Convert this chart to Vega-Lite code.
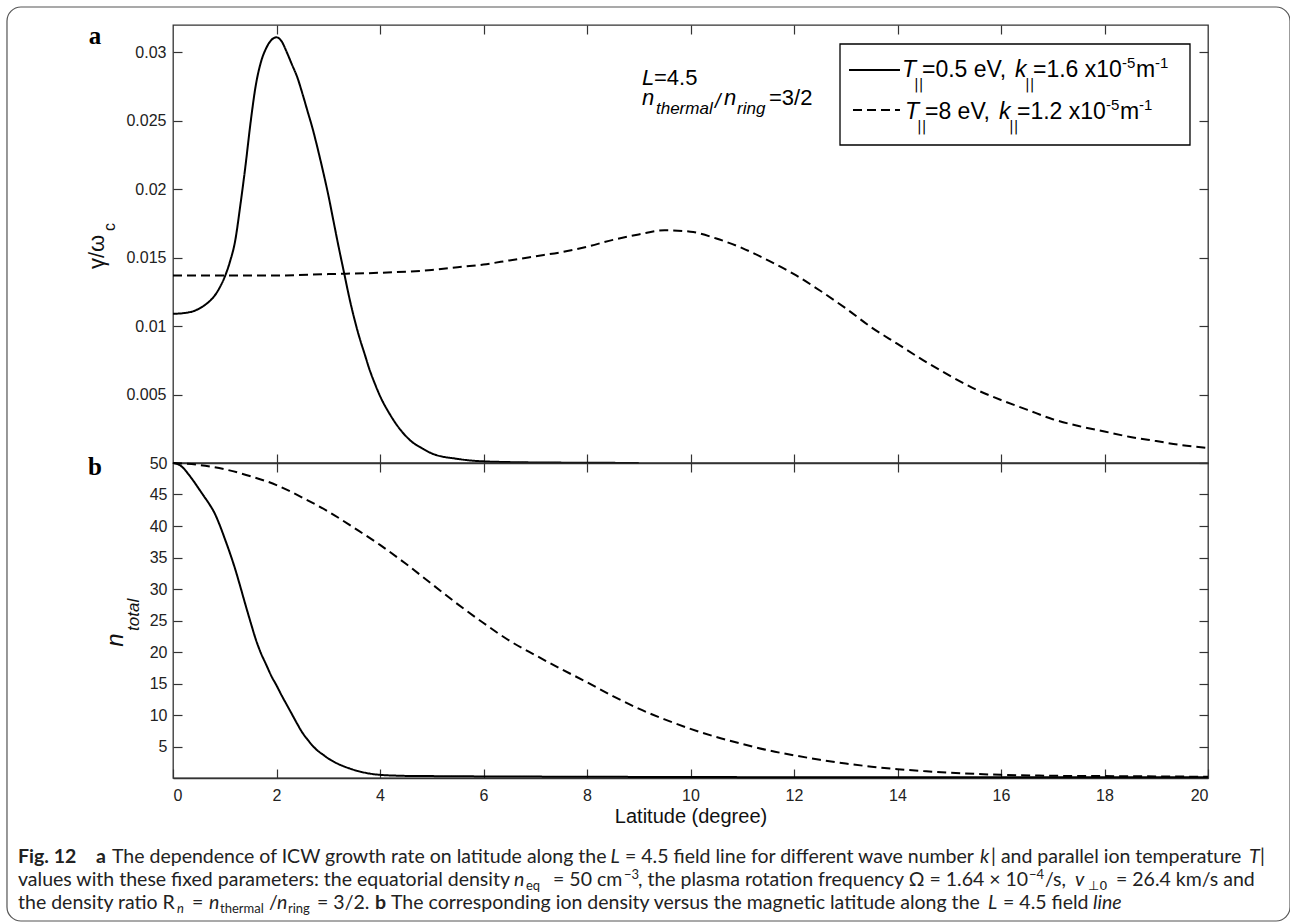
{
  "$schema": "https://vega.github.io/schema/vega-lite/v6.json",
  "background": "white",
  "padding": {"left": 5, "top": 5, "right": 1, "bottom": 2},
  "bounds": "flush",
  "spacing": 0,
  "datasets": {
    "gamma": [
      {"lat": 0, "val": 0.0109, "case": "T=0.5 eV"}, {"lat": 0.2, "val": 0.01095, "case": "T=0.5 eV"}, {"lat": 0.4, "val": 0.0111, "case": "T=0.5 eV"}, {"lat": 0.6, "val": 0.0115, "case": "T=0.5 eV"}, {"lat": 0.7, "val": 0.0118, "case": "T=0.5 eV"}, {"lat": 0.8, "val": 0.0122, "case": "T=0.5 eV"}, {"lat": 0.9, "val": 0.0128, "case": "T=0.5 eV"}, {"lat": 1.0, "val": 0.0136, "case": "T=0.5 eV"}, {"lat": 1.1, "val": 0.0147, "case": "T=0.5 eV"}, {"lat": 1.2, "val": 0.0162, "case": "T=0.5 eV"}, {"lat": 1.3, "val": 0.0188, "case": "T=0.5 eV"}, {"lat": 1.4, "val": 0.0217, "case": "T=0.5 eV"}, {"lat": 1.5, "val": 0.0249, "case": "T=0.5 eV"}, {"lat": 1.6, "val": 0.0276, "case": "T=0.5 eV"}, {"lat": 1.7, "val": 0.0293, "case": "T=0.5 eV"}, {"lat": 1.8, "val": 0.0303, "case": "T=0.5 eV"}, {"lat": 1.9, "val": 0.0309, "case": "T=0.5 eV"}, {"lat": 2.0, "val": 0.0311, "case": "T=0.5 eV"}, {"lat": 2.1, "val": 0.0308, "case": "T=0.5 eV"}, {"lat": 2.2, "val": 0.0300, "case": "T=0.5 eV"}, {"lat": 2.3, "val": 0.0291, "case": "T=0.5 eV"}, {"lat": 2.4, "val": 0.0282, "case": "T=0.5 eV"}, {"lat": 2.5, "val": 0.0270, "case": "T=0.5 eV"}, {"lat": 2.6, "val": 0.0257, "case": "T=0.5 eV"}, {"lat": 2.7, "val": 0.0244, "case": "T=0.5 eV"}, {"lat": 2.8, "val": 0.0229, "case": "T=0.5 eV"}, {"lat": 2.9, "val": 0.0213, "case": "T=0.5 eV"}, {"lat": 3.0, "val": 0.0196, "case": "T=0.5 eV"}, {"lat": 3.1, "val": 0.0177, "case": "T=0.5 eV"}, {"lat": 3.2, "val": 0.0158, "case": "T=0.5 eV"}, {"lat": 3.3, "val": 0.0140, "case": "T=0.5 eV"}, {"lat": 3.4, "val": 0.0122, "case": "T=0.5 eV"}, {"lat": 3.5, "val": 0.0106, "case": "T=0.5 eV"}, {"lat": 3.6, "val": 0.0092, "case": "T=0.5 eV"}, {"lat": 3.7, "val": 0.0080, "case": "T=0.5 eV"}, {"lat": 3.8, "val": 0.0068, "case": "T=0.5 eV"}, {"lat": 3.9, "val": 0.0058, "case": "T=0.5 eV"}, {"lat": 4.0, "val": 0.0049, "case": "T=0.5 eV"}, {"lat": 4.2, "val": 0.0035, "case": "T=0.5 eV"}, {"lat": 4.4, "val": 0.0024, "case": "T=0.5 eV"}, {"lat": 4.6, "val": 0.0016, "case": "T=0.5 eV"}, {"lat": 4.8, "val": 0.0011, "case": "T=0.5 eV"}, {"lat": 5.0, "val": 0.0007, "case": "T=0.5 eV"}, {"lat": 5.5, "val": 0.0003, "case": "T=0.5 eV"}, {"lat": 6.0, "val": 0.00012, "case": "T=0.5 eV"}, {"lat": 7.0, "val": 0.00004, "case": "T=0.5 eV"}, {"lat": 8.0, "val": 0.00002, "case": "T=0.5 eV"}, {"lat": 9.0, "val": 0.0, "case": "T=0.5 eV"},
      {"lat": 0, "val": 0.0137, "case": "T=8 eV"}, {"lat": 1, "val": 0.0137, "case": "T=8 eV"}, {"lat": 2, "val": 0.0137, "case": "T=8 eV"}, {"lat": 3, "val": 0.0138, "case": "T=8 eV"}, {"lat": 4, "val": 0.0139, "case": "T=8 eV"}, {"lat": 5, "val": 0.0141, "case": "T=8 eV"}, {"lat": 5.5, "val": 0.0143, "case": "T=8 eV"}, {"lat": 6, "val": 0.0145, "case": "T=8 eV"}, {"lat": 6.5, "val": 0.0148, "case": "T=8 eV"}, {"lat": 7, "val": 0.0151, "case": "T=8 eV"}, {"lat": 7.5, "val": 0.0154, "case": "T=8 eV"}, {"lat": 8, "val": 0.0158, "case": "T=8 eV"}, {"lat": 8.5, "val": 0.0163, "case": "T=8 eV"}, {"lat": 9, "val": 0.0167, "case": "T=8 eV"}, {"lat": 9.5, "val": 0.0170, "case": "T=8 eV"}, {"lat": 10, "val": 0.0169, "case": "T=8 eV"}, {"lat": 10.5, "val": 0.0164, "case": "T=8 eV"}, {"lat": 11, "val": 0.0157, "case": "T=8 eV"}, {"lat": 11.5, "val": 0.0148, "case": "T=8 eV"}, {"lat": 12, "val": 0.0138, "case": "T=8 eV"}, {"lat": 12.5, "val": 0.0126, "case": "T=8 eV"}, {"lat": 13, "val": 0.0113, "case": "T=8 eV"}, {"lat": 13.5, "val": 0.0099, "case": "T=8 eV"}, {"lat": 14, "val": 0.0087, "case": "T=8 eV"}, {"lat": 14.5, "val": 0.0075, "case": "T=8 eV"}, {"lat": 15, "val": 0.0064, "case": "T=8 eV"}, {"lat": 15.5, "val": 0.0054, "case": "T=8 eV"}, {"lat": 16, "val": 0.0046, "case": "T=8 eV"}, {"lat": 16.5, "val": 0.0039, "case": "T=8 eV"}, {"lat": 17, "val": 0.0032, "case": "T=8 eV"}, {"lat": 17.5, "val": 0.0027, "case": "T=8 eV"}, {"lat": 18, "val": 0.0023, "case": "T=8 eV"}, {"lat": 18.5, "val": 0.0019, "case": "T=8 eV"}, {"lat": 19, "val": 0.0016, "case": "T=8 eV"}, {"lat": 19.5, "val": 0.0013, "case": "T=8 eV"}, {"lat": 20, "val": 0.0011, "case": "T=8 eV"}
    ],
    "density": [
      {"lat": 0, "val": 50, "case": "T=0.5 eV"}, {"lat": 0.1, "val": 49.8, "case": "T=0.5 eV"}, {"lat": 0.2, "val": 49.2, "case": "T=0.5 eV"}, {"lat": 0.3, "val": 48.2, "case": "T=0.5 eV"}, {"lat": 0.4, "val": 47.1, "case": "T=0.5 eV"}, {"lat": 0.5, "val": 45.9, "case": "T=0.5 eV"}, {"lat": 0.6, "val": 44.7, "case": "T=0.5 eV"}, {"lat": 0.7, "val": 43.5, "case": "T=0.5 eV"}, {"lat": 0.8, "val": 42.1, "case": "T=0.5 eV"}, {"lat": 0.9, "val": 40.2, "case": "T=0.5 eV"}, {"lat": 1.0, "val": 38.0, "case": "T=0.5 eV"}, {"lat": 1.1, "val": 35.7, "case": "T=0.5 eV"}, {"lat": 1.2, "val": 33.2, "case": "T=0.5 eV"}, {"lat": 1.3, "val": 30.4, "case": "T=0.5 eV"}, {"lat": 1.4, "val": 27.5, "case": "T=0.5 eV"}, {"lat": 1.5, "val": 24.7, "case": "T=0.5 eV"}, {"lat": 1.6, "val": 22.0, "case": "T=0.5 eV"}, {"lat": 1.7, "val": 19.8, "case": "T=0.5 eV"}, {"lat": 1.8, "val": 18.0, "case": "T=0.5 eV"}, {"lat": 1.9, "val": 16.2, "case": "T=0.5 eV"}, {"lat": 2.0, "val": 14.7, "case": "T=0.5 eV"}, {"lat": 2.1, "val": 13.1, "case": "T=0.5 eV"}, {"lat": 2.2, "val": 11.6, "case": "T=0.5 eV"}, {"lat": 2.3, "val": 10.1, "case": "T=0.5 eV"}, {"lat": 2.4, "val": 8.6, "case": "T=0.5 eV"}, {"lat": 2.5, "val": 7.2, "case": "T=0.5 eV"}, {"lat": 2.6, "val": 6.1, "case": "T=0.5 eV"}, {"lat": 2.7, "val": 5.1, "case": "T=0.5 eV"}, {"lat": 2.8, "val": 4.3, "case": "T=0.5 eV"}, {"lat": 2.9, "val": 3.7, "case": "T=0.5 eV"}, {"lat": 3.0, "val": 3.1, "case": "T=0.5 eV"}, {"lat": 3.2, "val": 2.2, "case": "T=0.5 eV"}, {"lat": 3.4, "val": 1.55, "case": "T=0.5 eV"}, {"lat": 3.6, "val": 1.05, "case": "T=0.5 eV"}, {"lat": 3.8, "val": 0.7, "case": "T=0.5 eV"}, {"lat": 4.0, "val": 0.5, "case": "T=0.5 eV"}, {"lat": 4.3, "val": 0.38, "case": "T=0.5 eV"}, {"lat": 4.6, "val": 0.32, "case": "T=0.5 eV"}, {"lat": 5, "val": 0.3, "case": "T=0.5 eV"}, {"lat": 6, "val": 0.25, "case": "T=0.5 eV"}, {"lat": 8, "val": 0.2, "case": "T=0.5 eV"}, {"lat": 10, "val": 0.15, "case": "T=0.5 eV"}, {"lat": 14, "val": 0.12, "case": "T=0.5 eV"}, {"lat": 20, "val": 0.1, "case": "T=0.5 eV"},
      {"lat": 0, "val": 50, "case": "T=8 eV"}, {"lat": 0.5, "val": 49.7, "case": "T=8 eV"}, {"lat": 1, "val": 49.0, "case": "T=8 eV"}, {"lat": 1.5, "val": 47.9, "case": "T=8 eV"}, {"lat": 2, "val": 46.5, "case": "T=8 eV"}, {"lat": 2.5, "val": 44.5, "case": "T=8 eV"}, {"lat": 3, "val": 42.3, "case": "T=8 eV"}, {"lat": 3.5, "val": 39.7, "case": "T=8 eV"}, {"lat": 4, "val": 37.0, "case": "T=8 eV"}, {"lat": 4.5, "val": 34.0, "case": "T=8 eV"}, {"lat": 5, "val": 30.8, "case": "T=8 eV"}, {"lat": 5.5, "val": 27.6, "case": "T=8 eV"}, {"lat": 6, "val": 24.6, "case": "T=8 eV"}, {"lat": 6.5, "val": 21.8, "case": "T=8 eV"}, {"lat": 7, "val": 19.5, "case": "T=8 eV"}, {"lat": 7.5, "val": 17.3, "case": "T=8 eV"}, {"lat": 8, "val": 15.2, "case": "T=8 eV"}, {"lat": 8.5, "val": 13.0, "case": "T=8 eV"}, {"lat": 9, "val": 11.0, "case": "T=8 eV"}, {"lat": 9.5, "val": 9.3, "case": "T=8 eV"}, {"lat": 10, "val": 7.8, "case": "T=8 eV"}, {"lat": 10.5, "val": 6.5, "case": "T=8 eV"}, {"lat": 11, "val": 5.4, "case": "T=8 eV"}, {"lat": 11.5, "val": 4.4, "case": "T=8 eV"}, {"lat": 12, "val": 3.6, "case": "T=8 eV"}, {"lat": 12.5, "val": 2.9, "case": "T=8 eV"}, {"lat": 13, "val": 2.3, "case": "T=8 eV"}, {"lat": 13.5, "val": 1.8, "case": "T=8 eV"}, {"lat": 14, "val": 1.4, "case": "T=8 eV"}, {"lat": 14.5, "val": 1.1, "case": "T=8 eV"}, {"lat": 15, "val": 0.85, "case": "T=8 eV"}, {"lat": 15.5, "val": 0.65, "case": "T=8 eV"}, {"lat": 16, "val": 0.5, "case": "T=8 eV"}, {"lat": 17, "val": 0.35, "case": "T=8 eV"}, {"lat": 18, "val": 0.3, "case": "T=8 eV"}, {"lat": 19, "val": 0.25, "case": "T=8 eV"}, {"lat": 20, "val": 0.2, "case": "T=8 eV"}
    ]
  },
  "vconcat": [
    {
      "width": 1035,
      "height": 438,
      "resolve": {"axis": {"x": "independent", "y": "independent"}},
      "layer": [
        {
          "data": {"name": "gamma"},
          "mark": {"type": "line", "color": "#000", "strokeWidth": 2, "interpolate": "monotone"},
          "encoding": {
            "x": {"field": "lat", "type": "quantitative", "scale": {"domain": [0, 20], "nice": false},
                  "axis": {"orient": "bottom", "values": [2, 4, 6, 8, 10, 12, 14, 16, 18], "labels": false, "tickSize": -9, "domain": true, "title": null}},
            "y": {"field": "val", "type": "quantitative", "scale": {"domain": [0, 0.032], "nice": false, "zero": false},
                  "axis": {"orient": "left", "values": [0.005, 0.01, 0.015, 0.02, 0.025, 0.03], "format": "~g", "tickSize": -9, "labelPadding": 16, "domain": false, "title": null}},
            "strokeDash": {"field": "case", "type": "nominal", "scale": {"domain": ["T=0.5 eV", "T=8 eV"], "range": [[1, 0], [9, 5]]}, "legend": null}
          }
        },
        {
          "data": {"values": [{}]},
          "mark": {"type": "rect", "fill": "white", "stroke": "#000", "strokeWidth": 1.3},
          "encoding": {
            "x": {"datum": 12.889, "type": "quantitative", "scale": {"domain": [0, 20], "nice": false},
                  "axis": {"orient": "top", "values": [2, 4, 6, 8, 10, 12, 14, 16, 18], "labels": false, "tickSize": -9, "domain": false, "title": null}},
            "x2": {"datum": 19.652},
            "y": {"datum": 0.030612, "type": "quantitative", "scale": {"domain": [0, 0.032], "nice": false, "zero": false},
                  "axis": {"orient": "right", "values": [0.005, 0.01, 0.015, 0.02, 0.025, 0.03], "labels": false, "tickSize": -9, "domain": false, "title": null}},
            "y2": {"datum": 0.023233}
          }
        },
        {"data": {"values": [{}]}, "mark": {"type": "rule", "color": "#000", "strokeWidth": 2},
         "encoding": {"x": {"datum": 13.063, "type": "quantitative", "axis": null}, "x2": {"datum": 14.048}, "y": {"datum": 0.028712, "type": "quantitative", "axis": null}}},
        {"data": {"values": [{}]}, "mark": {"type": "rule", "color": "#000", "strokeWidth": 2, "strokeDash": [9, 5]},
         "encoding": {"x": {"datum": 13.140, "type": "quantitative", "axis": null}, "x2": {"datum": 14.048}, "y": {"datum": 0.025790, "type": "quantitative", "axis": null}}},

        {"data": {"values": [{}]}, "mark": {"type": "text", "text": "T", "align": "left", "baseline": "alphabetic", "font": "Liberation Sans", "fontSize": 23, "fontStyle": "italic", "color": "#000"},
         "encoding": {"x": {"datum": 14.087, "type": "quantitative", "axis": null}, "y": {"datum": 0.028201, "type": "quantitative", "axis": null}}},
        {"data": {"values": [{}]}, "mark": {"type": "text", "text": "||", "align": "left", "baseline": "alphabetic", "font": "DejaVu Sans", "fontSize": 14, "dy": 12, "color": "#000"},
         "encoding": {"x": {"datum": 14.319, "type": "quantitative", "axis": null}, "y": {"datum": 0.028201, "type": "quantitative", "axis": null}}},
        {"data": {"values": [{}]}, "mark": {"type": "text", "text": "=0.5 eV,", "align": "left", "baseline": "alphabetic", "font": "Liberation Sans", "fontSize": 23, "color": "#000"},
         "encoding": {"x": {"datum": 14.473, "type": "quantitative", "axis": null}, "y": {"datum": 0.028201, "type": "quantitative", "axis": null}}},
        {"data": {"values": [{}]}, "mark": {"type": "text", "text": "k", "align": "left", "baseline": "alphabetic", "font": "Liberation Sans", "fontSize": 23, "fontStyle": "italic", "color": "#000"},
         "encoding": {"x": {"datum": 16.271, "type": "quantitative", "axis": null}, "y": {"datum": 0.028201, "type": "quantitative", "axis": null}}},
        {"data": {"values": [{}]}, "mark": {"type": "text", "text": "||", "align": "left", "baseline": "alphabetic", "font": "DejaVu Sans", "fontSize": 14, "dy": 12, "color": "#000"},
         "encoding": {"x": {"datum": 16.464, "type": "quantitative", "axis": null}, "y": {"datum": 0.028201, "type": "quantitative", "axis": null}}},
        {"data": {"values": [{}]}, "mark": {"type": "text", "text": "=1.6 x10", "align": "left", "baseline": "alphabetic", "font": "Liberation Sans", "fontSize": 23, "color": "#000"},
         "encoding": {"x": {"datum": 16.618, "type": "quantitative", "axis": null}, "y": {"datum": 0.028201, "type": "quantitative", "axis": null}}},
        {"data": {"values": [{}]}, "mark": {"type": "text", "text": "-5", "align": "left", "baseline": "alphabetic", "font": "Liberation Sans", "fontSize": 15, "dy": -9, "color": "#000"},
         "encoding": {"x": {"datum": 18.338, "type": "quantitative", "axis": null}, "y": {"datum": 0.028201, "type": "quantitative", "axis": null}}},
        {"data": {"values": [{}]}, "mark": {"type": "text", "text": "m", "align": "left", "baseline": "alphabetic", "font": "Liberation Sans", "fontSize": 23, "color": "#000"},
         "encoding": {"x": {"datum": 18.609, "type": "quantitative", "axis": null}, "y": {"datum": 0.028201, "type": "quantitative", "axis": null}}},
        {"data": {"values": [{}]}, "mark": {"type": "text", "text": "-1", "align": "left", "baseline": "alphabetic", "font": "Liberation Sans", "fontSize": 15, "dy": -9, "color": "#000"},
         "encoding": {"x": {"datum": 18.976, "type": "quantitative", "axis": null}, "y": {"datum": 0.028201, "type": "quantitative", "axis": null}}},

        {"data": {"values": [{}]}, "mark": {"type": "text", "text": "T", "align": "left", "baseline": "alphabetic", "font": "Liberation Sans", "fontSize": 23, "fontStyle": "italic", "color": "#000"},
         "encoding": {"x": {"datum": 14.145, "type": "quantitative", "axis": null}, "y": {"datum": 0.025133, "type": "quantitative", "axis": null}}},
        {"data": {"values": [{}]}, "mark": {"type": "text", "text": "||", "align": "left", "baseline": "alphabetic", "font": "DejaVu Sans", "fontSize": 14, "dy": 12, "color": "#000"},
         "encoding": {"x": {"datum": 14.377, "type": "quantitative", "axis": null}, "y": {"datum": 0.025133, "type": "quantitative", "axis": null}}},
        {"data": {"values": [{}]}, "mark": {"type": "text", "text": "=8 eV,", "align": "left", "baseline": "alphabetic", "font": "Liberation Sans", "fontSize": 23, "color": "#000"},
         "encoding": {"x": {"datum": 14.531, "type": "quantitative", "axis": null}, "y": {"datum": 0.025133, "type": "quantitative", "axis": null}}},
        {"data": {"values": [{}]}, "mark": {"type": "text", "text": "k", "align": "left", "baseline": "alphabetic", "font": "Liberation Sans", "fontSize": 23, "fontStyle": "italic", "color": "#000"},
         "encoding": {"x": {"datum": 15.961, "type": "quantitative", "axis": null}, "y": {"datum": 0.025133, "type": "quantitative", "axis": null}}},
        {"data": {"values": [{}]}, "mark": {"type": "text", "text": "||", "align": "left", "baseline": "alphabetic", "font": "DejaVu Sans", "fontSize": 14, "dy": 12, "color": "#000"},
         "encoding": {"x": {"datum": 16.155, "type": "quantitative", "axis": null}, "y": {"datum": 0.025133, "type": "quantitative", "axis": null}}},
        {"data": {"values": [{}]}, "mark": {"type": "text", "text": "=1.2 x10", "align": "left", "baseline": "alphabetic", "font": "Liberation Sans", "fontSize": 23, "color": "#000"},
         "encoding": {"x": {"datum": 16.309, "type": "quantitative", "axis": null}, "y": {"datum": 0.025133, "type": "quantitative", "axis": null}}},
        {"data": {"values": [{}]}, "mark": {"type": "text", "text": "-5", "align": "left", "baseline": "alphabetic", "font": "Liberation Sans", "fontSize": 15, "dy": -9, "color": "#000"},
         "encoding": {"x": {"datum": 18.029, "type": "quantitative", "axis": null}, "y": {"datum": 0.025133, "type": "quantitative", "axis": null}}},
        {"data": {"values": [{}]}, "mark": {"type": "text", "text": "m", "align": "left", "baseline": "alphabetic", "font": "Liberation Sans", "fontSize": 23, "color": "#000"},
         "encoding": {"x": {"datum": 18.300, "type": "quantitative", "axis": null}, "y": {"datum": 0.025133, "type": "quantitative", "axis": null}}},
        {"data": {"values": [{}]}, "mark": {"type": "text", "text": "-1", "align": "left", "baseline": "alphabetic", "font": "Liberation Sans", "fontSize": 15, "dy": -9, "color": "#000"},
         "encoding": {"x": {"datum": 18.667, "type": "quantitative", "axis": null}, "y": {"datum": 0.025133, "type": "quantitative", "axis": null}}},

        {"data": {"values": [{}]}, "mark": {"type": "text", "text": "L", "align": "left", "baseline": "alphabetic", "font": "Liberation Sans", "fontSize": 22, "fontStyle": "italic", "color": "#000"},
         "encoding": {"x": {"datum": 9.063, "type": "quantitative", "axis": null}, "y": {"datum": 0.027616, "type": "quantitative", "axis": null}}},
        {"data": {"values": [{}]}, "mark": {"type": "text", "text": "=4.5", "align": "left", "baseline": "alphabetic", "font": "Liberation Sans", "fontSize": 22, "color": "#000"},
         "encoding": {"x": {"datum": 9.295, "type": "quantitative", "axis": null}, "y": {"datum": 0.027616, "type": "quantitative", "axis": null}}},
        {"data": {"values": [{}]}, "mark": {"type": "text", "text": "n", "align": "left", "baseline": "alphabetic", "font": "Liberation Sans", "fontSize": 22, "fontStyle": "italic", "color": "#000"},
         "encoding": {"x": {"datum": 9.063, "type": "quantitative", "axis": null}, "y": {"datum": 0.026155, "type": "quantitative", "axis": null}}},
        {"data": {"values": [{}]}, "mark": {"type": "text", "text": "thermal", "align": "left", "baseline": "alphabetic", "font": "Liberation Sans", "fontSize": 17, "fontStyle": "italic", "dy": 9, "color": "#000"},
         "encoding": {"x": {"datum": 9.333, "type": "quantitative", "axis": null}, "y": {"datum": 0.026155, "type": "quantitative", "axis": null}}},
        {"data": {"values": [{}]}, "mark": {"type": "text", "text": "/", "align": "left", "baseline": "alphabetic", "font": "Liberation Sans", "fontSize": 20, "fontStyle": "italic", "dy": 3, "color": "#000"},
         "encoding": {"x": {"datum": 10.473, "type": "quantitative", "axis": null}, "y": {"datum": 0.026155, "type": "quantitative", "axis": null}}},
        {"data": {"values": [{}]}, "mark": {"type": "text", "text": "n", "align": "left", "baseline": "alphabetic", "font": "Liberation Sans", "fontSize": 22, "fontStyle": "italic", "color": "#000"},
         "encoding": {"x": {"datum": 10.647, "type": "quantitative", "axis": null}, "y": {"datum": 0.026155, "type": "quantitative", "axis": null}}},
        {"data": {"values": [{}]}, "mark": {"type": "text", "text": "ring", "align": "left", "baseline": "alphabetic", "font": "Liberation Sans", "fontSize": 17, "fontStyle": "italic", "dy": 9, "color": "#000"},
         "encoding": {"x": {"datum": 10.899, "type": "quantitative", "axis": null}, "y": {"datum": 0.026155, "type": "quantitative", "axis": null}}},
        {"data": {"values": [{}]}, "mark": {"type": "text", "text": "=3/2", "align": "left", "baseline": "alphabetic", "font": "Liberation Sans", "fontSize": 22, "color": "#000"},
         "encoding": {"x": {"datum": 11.517, "type": "quantitative", "axis": null}, "y": {"datum": 0.026155, "type": "quantitative", "axis": null}}},

        {"data": {"values": [{}]}, "mark": {"type": "text", "text": "a", "align": "center", "baseline": "middle", "font": "Liberation Serif", "fontSize": 25, "fontWeight": "bold", "color": "#000"},
         "encoding": {"x": {"datum": -1.507, "type": "quantitative", "axis": null}, "y": {"datum": 0.0312, "type": "quantitative", "axis": null}}},
        {"data": {"values": [{}]}, "mark": {"type": "text", "text": "γ/ω", "align": "center", "baseline": "middle", "angle": 270, "font": "Liberation Sans", "fontSize": 22, "color": "#111"},
         "encoding": {"x": {"datum": -1.469, "type": "quantitative", "axis": null}, "y": {"datum": 0.01542, "type": "quantitative", "axis": null}}},
        {"data": {"values": [{}]}, "mark": {"type": "text", "text": "c", "align": "center", "baseline": "middle", "angle": 270, "font": "Liberation Sans", "fontSize": 16, "color": "#111"},
         "encoding": {"x": {"datum": -1.217, "type": "quantitative", "axis": null}, "y": {"datum": 0.01724, "type": "quantitative", "axis": null}}}
      ]
    },
    {
      "width": 1035,
      "height": 315,
      "resolve": {"axis": {"x": "independent", "y": "independent"}},
      "layer": [
        {
          "data": {"values": [{}]},
          "mark": {"type": "rect", "fillOpacity": 0, "stroke": "#555", "strokeWidth": 1.2, "cornerRadius": 14},
          "encoding": {
            "x": {"datum": -3.208, "type": "quantitative", "scale": {"domain": [0, 20], "nice": false},
                  "axis": {"orient": "top", "values": [2, 4, 6, 8, 10, 12, 14, 16, 18], "labels": false, "tickSize": -9, "domain": false, "title": null}},
            "x2": {"datum": 21.585},
            "y": {"datum": 122.38, "type": "quantitative", "scale": {"domain": [0, 50], "nice": false, "zero": false},
                  "axis": {"orient": "right", "values": [5, 10, 15, 20, 25, 30, 35, 40, 45, 50], "labels": false, "tickSize": -9, "domain": false, "title": null}},
            "y2": {"datum": -22.70}
          }
        },
        {
          "data": {"name": "density"},
          "mark": {"type": "line", "color": "#000", "strokeWidth": 2, "interpolate": "monotone"},
          "encoding": {
            "x": {"field": "lat", "type": "quantitative", "scale": {"domain": [0, 20], "nice": false},
                  "axis": {"orient": "bottom", "values": [0, 2, 4, 6, 8, 10, 12, 14, 16, 18, 20], "format": "d", "tickSize": -9, "labelPadding": 18, "domain": true, "title": "Latitude (degree)", "titlePadding": 3}},
            "y": {"field": "val", "type": "quantitative", "scale": {"domain": [0, 50], "nice": false, "zero": false},
                  "axis": {"orient": "left", "values": [5, 10, 15, 20, 25, 30, 35, 40, 45, 50], "format": "d", "tickSize": -9, "labelPadding": 15, "domain": false, "title": null}},
            "strokeDash": {"field": "case", "type": "nominal", "scale": {"domain": ["T=0.5 eV", "T=8 eV"], "range": [[1, 0], [9, 5]]}, "legend": null}
          }
        },
        {"data": {"values": [{}]}, "mark": {"type": "text", "text": "b", "align": "center", "baseline": "middle", "font": "Liberation Serif", "fontSize": 25, "fontWeight": "bold", "color": "#000"},
         "encoding": {"x": {"datum": -1.507, "type": "quantitative", "axis": null}, "y": {"datum": 49.4, "type": "quantitative", "axis": null}}},
        {"data": {"values": [{}]}, "mark": {"type": "text", "text": "n", "align": "center", "baseline": "middle", "angle": 270, "font": "Liberation Sans", "fontSize": 24, "fontStyle": "italic", "color": "#111"},
         "encoding": {"x": {"datum": -1.101, "type": "quantitative", "axis": null}, "y": {"datum": 21.9, "type": "quantitative", "axis": null}}},
        {"data": {"values": [{}]}, "mark": {"type": "text", "text": "total", "align": "center", "baseline": "middle", "angle": 270, "font": "Liberation Sans", "fontSize": 17, "fontStyle": "italic", "color": "#111"},
         "encoding": {"x": {"datum": -0.744, "type": "quantitative", "axis": null}, "y": {"datum": 25.9, "type": "quantitative", "axis": null}}},

        {"data": {"values": [{}]}, "mark": {"type": "text", "text": "Fig. 12", "align": "left", "baseline": "alphabetic", "font": "Lato", "fontSize": 19.5, "fontWeight": "bold", "color": "#222"},
         "encoding": {"x": {"datum": -2.995, "type": "quantitative", "axis": null}, "y": {"datum": -13.492, "type": "quantitative", "axis": null}}},
        {"data": {"values": [{}]}, "mark": {"type": "text", "text": "a", "align": "left", "baseline": "alphabetic", "font": "Lato", "fontSize": 19.5, "fontWeight": "bold", "color": "#222"},
         "encoding": {"x": {"datum": -1.488, "type": "quantitative", "axis": null}, "y": {"datum": -13.492, "type": "quantitative", "axis": null}}},
        {"data": {"values": [{}]}, "mark": {"type": "text", "text": "The dependence of ICW growth rate on latitude along the", "align": "left", "baseline": "alphabetic", "font": "Lato", "fontSize": 19.5, "color": "#222"},
         "encoding": {"x": {"datum": -1.179, "type": "quantitative", "axis": null}, "y": {"datum": -13.492, "type": "quantitative", "axis": null}}},
        {"data": {"values": [{}]}, "mark": {"type": "text", "text": "L", "align": "left", "baseline": "alphabetic", "font": "Lato", "fontSize": 19.5, "fontStyle": "italic", "color": "#222"},
         "encoding": {"x": {"datum": 8.454, "type": "quantitative", "axis": null}, "y": {"datum": -13.492, "type": "quantitative", "axis": null}}},
        {"data": {"values": [{}]}, "mark": {"type": "text", "text": "= 4.5 field line for different wave number", "align": "left", "baseline": "alphabetic", "font": "Lato", "fontSize": 19.5, "color": "#222"},
         "encoding": {"x": {"datum": 8.734, "type": "quantitative", "axis": null}, "y": {"datum": -13.492, "type": "quantitative", "axis": null}}},
        {"data": {"values": [{}]}, "mark": {"type": "text", "text": "k", "align": "left", "baseline": "alphabetic", "font": "Lato", "fontSize": 19.5, "fontStyle": "italic", "color": "#222"},
         "encoding": {"x": {"datum": 15.594, "type": "quantitative", "axis": null}, "y": {"datum": -13.492, "type": "quantitative", "axis": null}}},
        {"data": {"values": [{}]}, "mark": {"type": "text", "text": "| and parallel ion temperature", "align": "left", "baseline": "alphabetic", "font": "Lato", "fontSize": 19.5, "color": "#222"},
         "encoding": {"x": {"datum": 15.807, "type": "quantitative", "axis": null}, "y": {"datum": -13.492, "type": "quantitative", "axis": null}}},
        {"data": {"values": [{}]}, "mark": {"type": "text", "text": "T", "align": "left", "baseline": "alphabetic", "font": "Lato", "fontSize": 19.5, "fontStyle": "italic", "color": "#222"},
         "encoding": {"x": {"datum": 20.792, "type": "quantitative", "axis": null}, "y": {"datum": -13.492, "type": "quantitative", "axis": null}}},
        {"data": {"values": [{}]}, "mark": {"type": "text", "text": "|", "align": "left", "baseline": "alphabetic", "font": "Lato", "fontSize": 19.5, "color": "#222"},
         "encoding": {"x": {"datum": 21.005, "type": "quantitative", "axis": null}, "y": {"datum": -13.492, "type": "quantitative", "axis": null}}},

        {"data": {"values": [{}]}, "mark": {"type": "text", "text": "values with these fixed parameters: the equatorial density", "align": "left", "baseline": "alphabetic", "font": "Lato", "fontSize": 19.5, "color": "#222"},
         "encoding": {"x": {"datum": -2.995, "type": "quantitative", "axis": null}, "y": {"datum": -17.143, "type": "quantitative", "axis": null}}},
        {"data": {"values": [{}]}, "mark": {"type": "text", "text": "n", "align": "left", "baseline": "alphabetic", "font": "Lato", "fontSize": 19.5, "fontStyle": "italic", "color": "#222"},
         "encoding": {"x": {"datum": 6.590, "type": "quantitative", "axis": null}, "y": {"datum": -17.143, "type": "quantitative", "axis": null}}},
        {"data": {"values": [{}]}, "mark": {"type": "text", "text": "eq", "align": "left", "baseline": "alphabetic", "font": "Lato", "fontSize": 13, "dy": 4, "color": "#222"},
         "encoding": {"x": {"datum": 6.821, "type": "quantitative", "axis": null}, "y": {"datum": -17.143, "type": "quantitative", "axis": null}}},
        {"data": {"values": [{}]}, "mark": {"type": "text", "text": "= 50 cm", "align": "left", "baseline": "alphabetic", "font": "Lato", "fontSize": 19.5, "color": "#222"},
         "encoding": {"x": {"datum": 7.344, "type": "quantitative", "axis": null}, "y": {"datum": -17.143, "type": "quantitative", "axis": null}}},
        {"data": {"values": [{}]}, "mark": {"type": "text", "text": "−3", "align": "left", "baseline": "alphabetic", "font": "Lato", "fontSize": 13, "dy": -7, "color": "#222"},
         "encoding": {"x": {"datum": 8.715, "type": "quantitative", "axis": null}, "y": {"datum": -17.143, "type": "quantitative", "axis": null}}},
        {"data": {"values": [{}]}, "mark": {"type": "text", "text": ", the plasma rotation frequency Ω = 1.64 × 10", "align": "left", "baseline": "alphabetic", "font": "Lato", "fontSize": 19.5, "color": "#222"},
         "encoding": {"x": {"datum": 8.985, "type": "quantitative", "axis": null}, "y": {"datum": -17.143, "type": "quantitative", "axis": null}}},
        {"data": {"values": [{}]}, "mark": {"type": "text", "text": "−4", "align": "left", "baseline": "alphabetic", "font": "Lato", "fontSize": 13, "dy": -7, "color": "#222"},
         "encoding": {"x": {"datum": 16.541, "type": "quantitative", "axis": null}, "y": {"datum": -17.143, "type": "quantitative", "axis": null}}},
        {"data": {"values": [{}]}, "mark": {"type": "text", "text": "/s,", "align": "left", "baseline": "alphabetic", "font": "Lato", "fontSize": 19.5, "color": "#222"},
         "encoding": {"x": {"datum": 16.850, "type": "quantitative", "axis": null}, "y": {"datum": -17.143, "type": "quantitative", "axis": null}}},
        {"data": {"values": [{}]}, "mark": {"type": "text", "text": "v", "align": "left", "baseline": "alphabetic", "font": "Lato", "fontSize": 19.5, "fontStyle": "italic", "color": "#222"},
         "encoding": {"x": {"datum": 17.430, "type": "quantitative", "axis": null}, "y": {"datum": -17.143, "type": "quantitative", "axis": null}}},
        {"data": {"values": [{}]}, "mark": {"type": "text", "text": "⊥0", "align": "left", "baseline": "alphabetic", "font": "DejaVu Sans", "fontSize": 13, "dy": 4, "color": "#222"},
         "encoding": {"x": {"datum": 17.681, "type": "quantitative", "axis": null}, "y": {"datum": -17.143, "type": "quantitative", "axis": null}}},
        {"data": {"values": [{}]}, "mark": {"type": "text", "text": "= 26.4 km/s and", "align": "left", "baseline": "alphabetic", "font": "Lato", "fontSize": 19.5, "color": "#222"},
         "encoding": {"x": {"datum": 18.222, "type": "quantitative", "axis": null}, "y": {"datum": -17.143, "type": "quantitative", "axis": null}}},

        {"data": {"values": [{}]}, "mark": {"type": "text", "text": "the density ratio R", "align": "left", "baseline": "alphabetic", "font": "Lato", "fontSize": 19.5, "color": "#222"},
         "encoding": {"x": {"datum": -2.995, "type": "quantitative", "axis": null}, "y": {"datum": -20.794, "type": "quantitative", "axis": null}}},
        {"data": {"values": [{}]}, "mark": {"type": "text", "text": "n", "align": "left", "baseline": "alphabetic", "font": "Lato", "fontSize": 13, "fontStyle": "italic", "dy": 4, "color": "#222"},
         "encoding": {"x": {"datum": 0.077, "type": "quantitative", "axis": null}, "y": {"datum": -20.794, "type": "quantitative", "axis": null}}},
        {"data": {"values": [{}]}, "mark": {"type": "text", "text": "=", "align": "left", "baseline": "alphabetic", "font": "Lato", "fontSize": 19.5, "color": "#222"},
         "encoding": {"x": {"datum": 0.367, "type": "quantitative", "axis": null}, "y": {"datum": -20.794, "type": "quantitative", "axis": null}}},
        {"data": {"values": [{}]}, "mark": {"type": "text", "text": "n", "align": "left", "baseline": "alphabetic", "font": "Lato", "fontSize": 19.5, "fontStyle": "italic", "color": "#222"},
         "encoding": {"x": {"datum": 0.696, "type": "quantitative", "axis": null}, "y": {"datum": -20.794, "type": "quantitative", "axis": null}}},
        {"data": {"values": [{}]}, "mark": {"type": "text", "text": "thermal", "align": "left", "baseline": "alphabetic", "font": "Lato", "fontSize": 13, "dy": 4, "color": "#222"},
         "encoding": {"x": {"datum": 0.908, "type": "quantitative", "axis": null}, "y": {"datum": -20.794, "type": "quantitative", "axis": null}}},
        {"data": {"values": [{}]}, "mark": {"type": "text", "text": "/", "align": "left", "baseline": "alphabetic", "font": "Lato", "fontSize": 19.5, "color": "#222"},
         "encoding": {"x": {"datum": 1.855, "type": "quantitative", "axis": null}, "y": {"datum": -20.794, "type": "quantitative", "axis": null}}},
        {"data": {"values": [{}]}, "mark": {"type": "text", "text": "n", "align": "left", "baseline": "alphabetic", "font": "Lato", "fontSize": 19.5, "fontStyle": "italic", "color": "#222"},
         "encoding": {"x": {"datum": 2.010, "type": "quantitative", "axis": null}, "y": {"datum": -20.794, "type": "quantitative", "axis": null}}},
        {"data": {"values": [{}]}, "mark": {"type": "text", "text": "ring", "align": "left", "baseline": "alphabetic", "font": "Lato", "fontSize": 13, "dy": 4, "color": "#222"},
         "encoding": {"x": {"datum": 2.222, "type": "quantitative", "axis": null}, "y": {"datum": -20.794, "type": "quantitative", "axis": null}}},
        {"data": {"values": [{}]}, "mark": {"type": "text", "text": "= 3/2.", "align": "left", "baseline": "alphabetic", "font": "Lato", "fontSize": 19.5, "color": "#222"},
         "encoding": {"x": {"datum": 2.783, "type": "quantitative", "axis": null}, "y": {"datum": -20.794, "type": "quantitative", "axis": null}}},
        {"data": {"values": [{}]}, "mark": {"type": "text", "text": "b", "align": "left", "baseline": "alphabetic", "font": "Lato", "fontSize": 19.5, "fontWeight": "bold", "color": "#222"},
         "encoding": {"x": {"datum": 3.903, "type": "quantitative", "axis": null}, "y": {"datum": -20.794, "type": "quantitative", "axis": null}}},
        {"data": {"values": [{}]}, "mark": {"type": "text", "text": "The corresponding ion density versus the magnetic latitude along the", "align": "left", "baseline": "alphabetic", "font": "Lato", "fontSize": 19.5, "color": "#222"},
         "encoding": {"x": {"datum": 4.213, "type": "quantitative", "axis": null}, "y": {"datum": -20.794, "type": "quantitative", "axis": null}}},
        {"data": {"values": [{}]}, "mark": {"type": "text", "text": "L", "align": "left", "baseline": "alphabetic", "font": "Lato", "fontSize": 19.5, "fontStyle": "italic", "color": "#222"},
         "encoding": {"x": {"datum": 15.749, "type": "quantitative", "axis": null}, "y": {"datum": -20.794, "type": "quantitative", "axis": null}}},
        {"data": {"values": [{}]}, "mark": {"type": "text", "text": "= 4.5 field", "align": "left", "baseline": "alphabetic", "font": "Lato", "fontSize": 19.5, "color": "#222"},
         "encoding": {"x": {"datum": 16.039, "type": "quantitative", "axis": null}, "y": {"datum": -20.794, "type": "quantitative", "axis": null}}},
        {"data": {"values": [{}]}, "mark": {"type": "text", "text": "line", "align": "left", "baseline": "alphabetic", "font": "Lato", "fontSize": 19.5, "fontStyle": "italic", "color": "#222"},
         "encoding": {"x": {"datum": 17.778, "type": "quantitative", "axis": null}, "y": {"datum": -20.794, "type": "quantitative", "axis": null}}}
      ]
    }
  ],
  "config": {
    "view": {"stroke": "#333", "strokeWidth": 1.3},
    "axis": {"grid": false, "domainColor": "#333", "domainWidth": 1.3, "tickColor": "#333", "tickWidth": 1.2, "labelFont": "Liberation Sans", "labelFontSize": 16, "labelColor": "#222", "titleFont": "Liberation Sans", "titleFontSize": 20, "titleFontWeight": "normal", "titleColor": "#111"}
  }
}
